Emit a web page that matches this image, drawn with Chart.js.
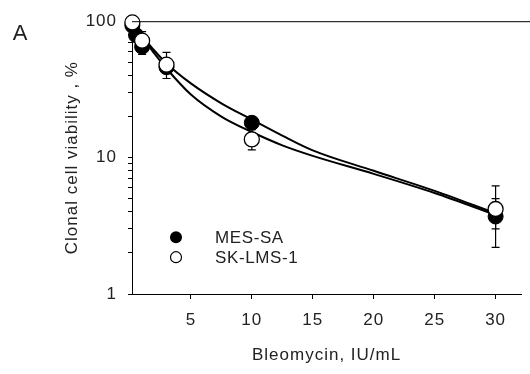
<!DOCTYPE html>
<html>
<head>
<meta charset="utf-8">
<script src="https://cdn.jsdelivr.net/npm/chart.js@4.4.0/dist/chart.umd.min.js"></script>
<style>
  html, body { margin: 0; padding: 0; background: #fff; }
  #wrap { width: 530px; height: 374px; }
</style>
</head>
<body>
<div id="wrap"><canvas id="myChart" width="530" height="374"></canvas></div>
<script>
// series names
var names = ["MES-SA", "SK-LMS-1"];

// measured points
var mesX = [0.2, 0.5, 1, 3, 10, 30];
var mesY = [93, 79, 65, 46, 18, 3.7];
var mesLo = [null, null, 57, null, null, 2.2];
var mesHi = [null, null, 73, null, null, 5.0];

var skX = [0.2, 1, 3, 10, 30];
var skY = [98, 72, 48, 13.6, 4.2];
var skLo = [null, 62, 38, 11.4, 3.0];
var skHi = [null, 84, 59, 16, 6.2];

// fitted curves
var fitX = [0.1, 0.5, 1, 2, 3, 5, 7.5, 10, 12.5, 15, 20, 25, 30];
var mesFit = [98, 88, 78, 61, 49, 35, 25, 19, 14.5, 11.3, 8, 5.7, 3.9];
var skFit = [98, 89, 78, 58, 45, 29, 20, 15.4, 12.3, 10.3, 7.6, 5.5, 3.8];

// ticks
var xTicks = [5, 10, 15, 20, 25, 30];
var yTicks = [1, 2, 3, 4, 5, 6, 7, 8, 9, 10, 20, 30, 40, 50, 60, 70, 80, 90, 100];
var yLabels = [1, 10, 100];

var txt = "#222";
var fnt = "'Liberation Sans', Arial, sans-serif";

function pts(xs, ys) {
  var out = [];
  for (var i = 0; i < xs.length; i++) out.push({x: xs[i], y: ys[i]});
  return out;
}

// wider letter spacing like the original
var spacing = {
  id: "spacing",
  beforeDraw: function(chart) { chart.ctx.letterSpacing = "1px"; }
};

// error bars, drawn under the markers
var errBars = {
  id: "errBars",
  beforeDatasetsDraw: function(chart) {
    var ctx = chart.ctx;
    var xs = chart.scales.x, ys = chart.scales.y;
    var sets = [[mesX, mesLo, mesHi], [skX, skLo, skHi]];
    ctx.save();
    ctx.strokeStyle = "#000";
    ctx.lineWidth = 1.2;
    sets.forEach(function(s) {
      for (var i = 0; i < s[0].length; i++) {
        if (s[1][i] == null) continue;
        var px = xs.getPixelForValue(s[0][i]);
        var p1 = ys.getPixelForValue(s[1][i]);
        var p2 = ys.getPixelForValue(s[2][i]);
        ctx.beginPath();
        ctx.moveTo(px, p1); ctx.lineTo(px, p2);
        ctx.moveTo(px - 4, p1); ctx.lineTo(px + 4, p1);
        ctx.moveTo(px - 4, p2); ctx.lineTo(px + 4, p2);
        ctx.stroke();
      }
    });
    ctx.restore();
  }
};

// top frame line, panel letter, legend
var extras = {
  id: "extras",
  afterDraw: function(chart) {
    var ctx = chart.ctx;
    var a = chart.chartArea;
    ctx.save();
    ctx.strokeStyle = "#000";
    ctx.lineWidth = 1;
    ctx.beginPath();
    ctx.moveTo(a.left, a.top + 0.5);
    ctx.lineTo(530, a.top + 0.5);
    ctx.stroke();

    ctx.letterSpacing = "0px";
    ctx.fillStyle = txt;
    ctx.font = "22px " + fnt;
    ctx.textAlign = "center";
    ctx.textBaseline = "middle";
    ctx.fillText("A", 20, 34);

    // legend
    var lx = a.left + 44, ly = a.top + 216;
    ctx.beginPath();
    ctx.arc(lx, ly, 6, 0, Math.PI * 2);
    ctx.fillStyle = "#000";
    ctx.fill();
    ctx.beginPath();
    ctx.arc(lx, ly + 20, 5.5, 0, Math.PI * 2);
    ctx.fillStyle = "#fff";
    ctx.fill();
    ctx.lineWidth = 1.2;
    ctx.stroke();
    ctx.fillStyle = txt;
    ctx.font = "17px " + fnt;
    ctx.letterSpacing = "0.6px";
    ctx.textAlign = "left";
    ctx.fillText(names[0], lx + 39, ly + 1);
    ctx.fillText(names[1], lx + 39, ly + 21);
    ctx.restore();
  }
};

var data = {
  datasets: [
    {
      type: "line",
      data: pts(fitX, mesFit),
      borderColor: "#000",
      borderWidth: 2,
      pointRadius: 0,
      cubicInterpolationMode: "monotone",
      fill: false,
      order: 4
    },
    {
      type: "line",
      data: pts(fitX, skFit),
      borderColor: "#000",
      borderWidth: 2,
      pointRadius: 0,
      cubicInterpolationMode: "monotone",
      fill: false,
      order: 3
    },
    {
      type: "scatter",
      label: names[0],
      data: pts(mesX, mesY),
      pointRadius: 7.5,
      pointBackgroundColor: "#000",
      pointBorderColor: "#000",
      pointBorderWidth: 1,
      clip: false,
      order: 2
    },
    {
      type: "scatter",
      label: names[1],
      data: pts(skX, skY),
      pointRadius: 7.5,
      pointBackgroundColor: "#fff",
      pointBorderColor: "#000",
      pointBorderWidth: 1.3,
      clip: false,
      order: 1
    }
  ]
};

var config = {
  type: "scatter",
  data: data,
  options: {
    responsive: false,
    animation: false,
    layout: { padding: { top: 18, right: 4, left: 0, bottom: 0 } },
    plugins: {
      legend: { display: false },
      tooltip: { enabled: false }
    },
    scales: {
      x: {
        type: "linear",
        min: 0.17,
        max: 32.1,
        afterBuildTicks: function(s) { s.ticks = xTicks.map(function(v) { return {value: v}; }); },
        afterFit: function(s) { s.height = 80; },
        grid: { display: true, drawOnChartArea: false, drawTicks: true, tickLength: 5, color: "#000" },
        border: { display: true, color: "#000", width: 1 },
        ticks: { color: txt, font: { family: fnt, size: 17 }, padding: 11, maxRotation: 0, autoSkip: false },
        title: { display: true, text: "Bleomycin, IU/mL", color: txt, font: { family: fnt, size: 17 }, padding: { top: 0, bottom: 8 } }
      },
      y: {
        type: "logarithmic",
        min: 1,
        max: 100,
        afterBuildTicks: function(s) { s.ticks = yTicks.map(function(v) { return {value: v}; }); },
        afterFit: function(s) { s.width = 132; },
        grid: { display: true, drawOnChartArea: false, drawTicks: true, tickLength: 4, color: "#000" },
        border: { display: true, color: "#000", width: 1 },
        ticks: {
          color: txt,
          font: { family: fnt, size: 17 },
          padding: 11,
          autoSkip: false,
          callback: function(v) { return yLabels.indexOf(v) >= 0 ? String(v) : ""; }
        },
        title: { display: true, text: "Clonal cell viability , %", color: txt, font: { family: fnt, size: 17 }, padding: { top: 62, bottom: 0 } }
      }
    }
  },
  plugins: [spacing, errBars, extras]
};

var myChart = new Chart(document.getElementById("myChart"), config);
</script>
</body>
</html>
